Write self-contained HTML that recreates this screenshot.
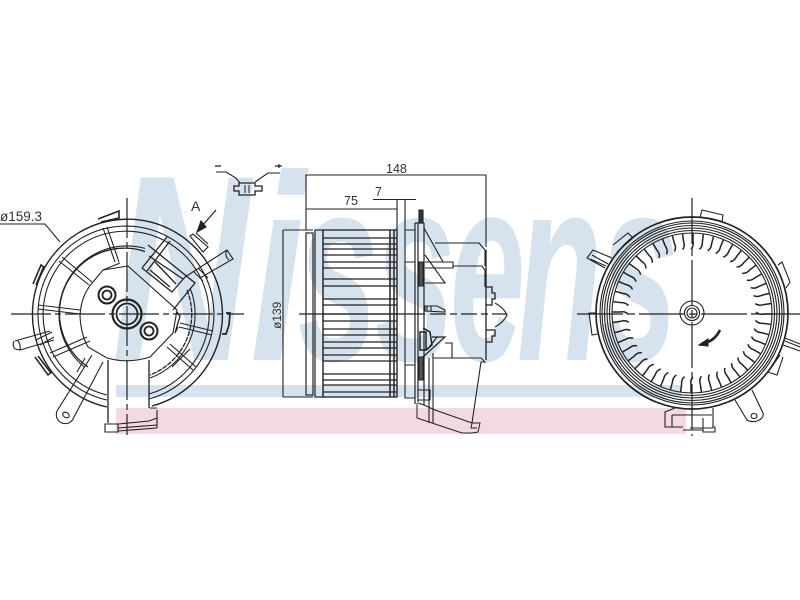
<!DOCTYPE html>
<html><head><meta charset="utf-8"><style>
html,body{margin:0;padding:0;background:#fff;width:800px;height:600px;overflow:hidden}
svg{display:block}
text{font-family:"Liberation Sans",sans-serif}
</style></head><body>
<svg width="800" height="600" viewBox="0 0 800 600" xmlns="http://www.w3.org/2000/svg">
<defs>
<filter id="b" x="-5%" y="-5%" width="110%" height="110%"><feGaussianBlur stdDeviation="0.35"/></filter>
<g id="blade"><path d="M-1-64Q2-67 1-72L1-80" fill="none" stroke="#222" stroke-width="1.5"/></g>
<g id="b6"><use href="#blade"/><use href="#blade" transform="rotate(7.5)"/><use href="#blade" transform="rotate(15)"/><use href="#blade" transform="rotate(22.5)"/><use href="#blade" transform="rotate(30)"/><use href="#blade" transform="rotate(37.5)"/></g>
</defs>
<rect width="800" height="600" fill="#fff"/>
<g font-size="265" font-style="italic" font-weight="bold" fill="#d6e2ed">
<text x="112" y="360" textLength="138" lengthAdjust="spacingAndGlyphs">N</text>
<text x="250" y="360" textLength="55" lengthAdjust="spacingAndGlyphs">i</text>
<text x="298" y="360" textLength="80" lengthAdjust="spacingAndGlyphs">s</text>
<text x="375" y="360" textLength="80" lengthAdjust="spacingAndGlyphs">s</text>
<text x="450" y="360" textLength="75" lengthAdjust="spacingAndGlyphs">e</text>
<text x="517" y="360" textLength="85" lengthAdjust="spacingAndGlyphs">n</text>
<text x="600" y="360" textLength="78" lengthAdjust="spacingAndGlyphs">s</text>
</g>
<rect x="116" y="385" width="565" height="12" fill="#d6e2ed"/>
<rect x="116" y="408" width="570" height="26" fill="#f2dae0"/>

<g filter="url(#b)" fill="none" stroke="#222" stroke-width="1.1">
<!-- LEFT VIEW -->
<path d="M11 314H244" stroke-dasharray="40 4 6 4" stroke-width="1.2"/>
<path d="M127 198V435" stroke-dasharray="40 4 6 4" stroke-width="1.2"/>
<text x="0" y="221" font-size="13.500" fill="#333" stroke="none">ø159.3</text>
<path d="M0 224H45L60 242"/>
<path d="M107 407A95 95 0 1 1 152 406" stroke-width="1.4"/>
<path d="M107 400A88 88 0 1 1 149 399"/>
<path d="M107 395A83 83 0 1 1 149 394"/>
<path d="M85 367.500A68 68 0 0 1 145 248.400"/>
<path d="M88 367A65 65 0 0 1 145 251.500" stroke-width="1.3"/>
<path d="M190 288A68 68 0 0 1 150 378"/>
<path d="M187 290A65 65 0 0 1 150 375" stroke-width="1.3" stroke-dasharray="5 1"/>
<path d="M128 266L103 270L93 282Q81 295 80 316Q81 335 88 347L107 358Q128 364 150 357L173 333L177 310L128 266"/>
<path d="M103 228L115 262M107 227L119 262"/><path d="M103 270L120 263"/>
<path d="M62 257L92 282M59 261L89 285"/>
<path d="M38 305L80 310M38 309L80 314"/>
<path d="M50 353L87 337M53 357L90 341"/>
<path d="M167 347L193 370M170 344L196 367M172 367L190 349"/>
<path d="M180 323L213 331M179 327L212 335"/>
<path d="M177 312L180 316L175 333L178 327" stroke-width="1.3"/>
<circle cx="127" cy="314" r="14.500" stroke-width="2.200"/><circle cx="127" cy="314" r="10.500" stroke-width="1.800"/>
<circle cx="107" cy="295" r="8.500" stroke-width="2"/><circle cx="107" cy="295" r="4.500" stroke-width="1.800"/>
<circle cx="149" cy="331" r="8.500" stroke-width="2"/><circle cx="149" cy="331" r="4.500" stroke-width="1.800"/>
<!-- connector block -->
<path d="M142 268L167 237M147 271L170 241M142 268L172 292L185 277M148 245L195 283L173 310M149 256L183 279M155 262L176 284M150 270L170 287" stroke-width="1.3"/>
<!-- top right clip & pipe -->
<path d="M190 236L193 234L208 247L203 252ZM196 233L208 244" stroke-width="1.1"/>
<path d="M185 277L227 250L233 259L200 278M194 272L203 281M198 268L208 278"/>
<path d="M227 250Q224 256 229 260"/>
<!-- A arrow -->
<text x="191" y="211" font-size="14" fill="#333" stroke="none">A</text>
<path d="M216 210L202 226" stroke-width="1.2"/><path d="M197 232L206 227L201 221Z" fill="#222"/>
<!-- left clips -->
<path d="M33 284L41 265L45 268M36 285L44 266" stroke-width="1.6"/>
<path d="M98 219L119 211L119 218L101 222" stroke-width="1.6"/>
<path d="M35 357L48 375L52 372M38 356L51 373" stroke-width="1.5"/>
<path d="M226 313H230L229 325L226 334H222" stroke-width="1.7"/>
<!-- left pipe -->
<path d="M15 341L50 331M20 350L54 340M14 341Q12 346 15 349L20 350Q21 345 18 341M36 340L52 332M40 345L54 337"/>
<!-- lower tab -->
<path d="M57 411L92 355M73 419L103 362M57 411C53 423 68 428 73 419"/><ellipse cx="66" cy="415" rx="3.500" ry="2.500" transform="rotate(30 66 415)"/>
<path d="M85 358L77 372"/>
<!-- housing -->
<path d="M108 360V423M149 360V408" stroke-width="1.300"/>
<path d="M105 424H118V432H105ZM118 424L149 421L157 418M118 428L157 425M118 431L157 428M157 410V428M150 408H157" stroke-width="1.1"/>

<!-- CONNECTOR -->
<path d="M216 172H226L236 178L240 183"/><path d="M215 166H221" stroke-width="1.3"/>
<path d="M234 186H239V183H255V186H262V191H255V195H239V191H234Z" stroke-width="1.3"/><path d="M245 185V193M249 185V193" stroke-width="1"/>
<path d="M255 182L268 173H280"/><path d="M275 166H282M279 164V168" stroke-width="1.2"/>

<!-- MIDDLE VIEW -->
<path d="M306 230V175H486V247M306 209H397V229M373 199.500H416M397 199V230M405 199V230"/>
<text x="386" y="173" font-size="12.500" fill="#333" stroke="none">148</text>
<text x="344" y="205" font-size="12.500" fill="#333" stroke="none">75</text>
<text x="375" y="196" font-size="12.500" fill="#333" stroke="none">7</text>
<text transform="translate(281 329) rotate(-90)" font-size="12" fill="#333" stroke="none">ø139</text>
<path d="M283 230V397M283 230H313M283 397H313" />
<rect x="306" y="233" width="7" height="162" stroke-width="1.2"/>
<rect x="315" y="230" width="8" height="167" stroke-width="1.2"/>
<rect x="323" y="230" width="74" height="167" stroke-width="1.300"/>
<path d="M390 230V397M394 230V397" stroke-width="1.500"/>
<path d="M323 238H397M323 244H397M323 249H397M323 255H397M323 262H397M323 268H397M323 279H397M323 286H397M323 299H397M323 305H397M323 314H397M323 321H397M323 329H397M323 335H397M323 342H397M323 348H397M323 355H397M323 361H397M323 374H397M323 380H397M323 385H397M323 392H397" stroke-width="1.2"/>
<path d="M397 232V397M405 230V398H415M405 230H415M405 262H415M405 365H415" />
<path d="M415 223V404M418 223V402M415 223H424M424 223V405" stroke-width="1.2"/>
<path d="M419 210H423V223H419Z" fill="#333"/>
<path d="M419 262H423V286H419ZM419 357H423V380H419Z" fill="#555" stroke-width="1"/>
<path d="M424 228L443 262M425 255L445 283H425M425 262H443M435 243H479L485 250V266M443 262H453V268H425M453 266H482L485 270V287" stroke-width="1.1"/>
<path d="M425 306H437L445 310V312L425 311ZM427 306V311M431 306V311" stroke-width="1.1"/>
<path d="M486 250V287H492V293H495V299H492V305H486V287M486 305V330" stroke-width="1.300"/>
<path d="M495 303Q504 308 507 315Q504 322 495 327"/>
<path d="M486 330H495V336H492V342H486V330M486 342V360" stroke-width="1.300"/>
<path d="M432 337H445L423 357M437 337L427 350" stroke-width="1.2"/><path d="M420 332H426V350H420ZM423 328L430 332L432 345L426 350" stroke-width="1.500"/>
<path d="M445 343H452V358M433 358H481L485 362L481 362L472 423"/>
<path d="M433 353V423M429 358V423"/>
<path d="M418 390H430V400H418"/>
<path d="M417 403V418L432 423L462 433H472L478 432L480 423H472L471 428H477M418 403L424 405L435 410L472 423" stroke-width="1"/>
<path d="M299 314H425" stroke-width="1.2"/>
<path d="M430 314H507" stroke-dasharray="16 4 7 4" stroke-width="1.2"/>

<!-- RIGHT VIEW -->
<path d="M577 314H800" stroke-dasharray="46 4 8 4" stroke-width="1.2"/>
<path d="M692 198V436" stroke-dasharray="46 4 8 4" stroke-width="1.2"/>
<circle cx="692" cy="313" r="96" stroke-width="1.700"/>
<circle cx="692" cy="313" r="92"/><circle cx="692" cy="313" r="90"/><circle cx="692" cy="313" r="87.500"/><circle cx="692" cy="313" r="85"/><circle cx="692" cy="313" r="82.500"/><circle cx="692" cy="313" r="80"/>
<g transform="translate(692 313)">
<use href="#b6"/><use href="#b6" transform="rotate(45)"/><use href="#b6" transform="rotate(90)"/><use href="#b6" transform="rotate(135)"/><use href="#b6" transform="rotate(180)"/><use href="#b6" transform="rotate(225)"/><use href="#b6" transform="rotate(270)"/><use href="#b6" transform="rotate(315)"/>
</g>
<circle cx="692" cy="313" r="12"/><circle cx="692" cy="313" r="7.500"/><circle cx="692" cy="313" r="5"/>
<path d="M720 330Q714 342 703 343" stroke-width="2.600"/><path d="M699 345L708 339L708 346Z" fill="#222"/>
<!-- clips -->
<path d="M700 218L702 210L723 215L722 222" stroke-width="1.100"/>
<path d="M613 245L628 233L633 238L617 252" stroke-width="1.100"/>
<path d="M612 258L593 250L587 258L605 268M592 255L608 264M590 259L606 266" stroke-width="1.100"/>
<path d="M597 313H589L592 335L598 334" stroke-width="1.100"/>
<path d="M778 265L782 262L790 282L786 288" stroke-width="1.100"/>
<path d="M785 338L800 344M783 345L800 351M785 341L800 347" stroke-width="1.100"/>
<path d="M783 357L777 375L768 372L780 355" stroke-width="1.100"/>
<path d="M735 400L747 420C753 424 765 420 763 413L752 390"/><ellipse cx="754" cy="416" rx="3" ry="2.500"/>
<path d="M675 408L665 412V427H683M672 415V427M672 415H712M683 430H703V432H715V427H713V408M703 430V418M690 428H713" stroke-width="1.100"/>
</g>
</svg>
</body></html>
